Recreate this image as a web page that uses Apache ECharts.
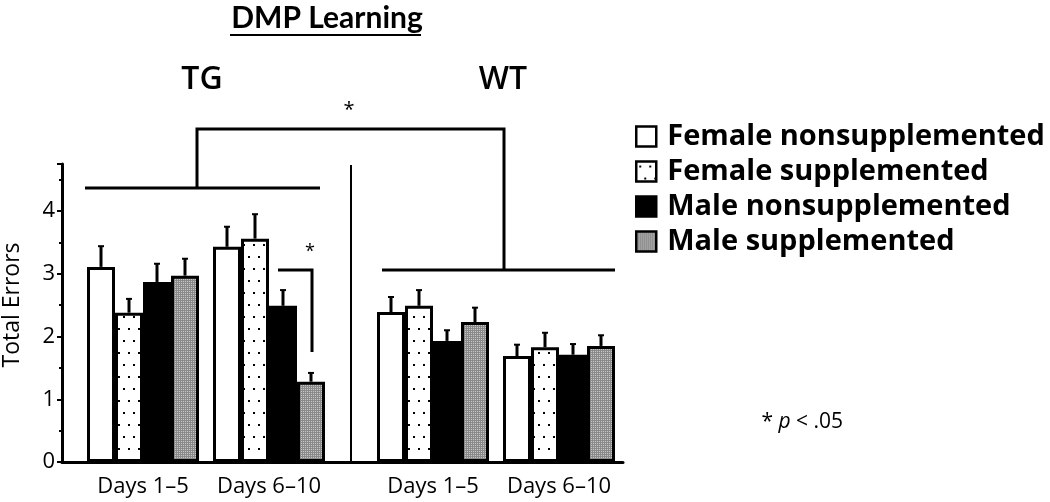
<!DOCTYPE html>
<html><head><meta charset="utf-8">
<script src="https://cdn.jsdelivr.net/npm/echarts@6/dist/echarts.min.js"></script>
<style>html,body{margin:0;padding:0;background:#fff}#c{width:1050px;height:502px}</style>
</head><body><div id="c"></div>
<script>
// ---- data ----
const categories = ['Days 1–5', 'Days 6–10'];
const seriesNames = ['Female nonsupplemented', 'Female supplemented', 'Male nonsupplemented', 'Male supplemented'];
const yTicks = [0, 1, 2, 3, 4];

const tgFemaleNonsupp = [3.11, 3.43];
const tgFemaleSupp    = [2.38, 3.56];
const tgMaleNonsupp   = [2.87, 2.49];
const tgMaleSupp      = [2.97, 1.28];
const wtFemaleNonsupp = [2.39, 1.69];
const wtFemaleSupp    = [2.49, 1.83];
const wtMaleNonsupp   = [1.93, 1.71];
const wtMaleSupp      = [2.23, 1.85];

const tgFemaleNonsuppErr = [0.33, 0.32];
const tgFemaleSuppErr    = [0.22, 0.39];
const tgMaleNonsuppErr   = [0.29, 0.25];
const tgMaleSuppErr      = [0.27, 0.14];
const wtFemaleNonsuppErr = [0.24, 0.18];
const wtFemaleSuppErr    = [0.25, 0.23];
const wtMaleNonsuppErr   = [0.17, 0.17];
const wtMaleSuppErr      = [0.23, 0.17];

// ---- patterns ----
function dotPattern() {
  const c = document.createElement('canvas'); c.width = 10; c.height = 24;
  const x = c.getContext('2d');
  x.fillStyle = '#fff'; x.fillRect(0, 0, 10, 24);
  x.fillStyle = '#000'; x.fillRect(3, 4, 2, 2); x.fillRect(8, 16, 2, 2);
  return c;
}
function greyPattern() {
  const c = document.createElement('canvas'); c.width = 4; c.height = 4;
  const x = c.getContext('2d');
  x.fillStyle = '#c8c8c8'; x.fillRect(0, 0, 4, 4);
  x.fillStyle = '#8a8a8a';
  x.fillRect(0, 0, 1, 4); x.fillRect(2, 0, 1, 4);
  x.fillRect(0, 0, 4, 1); x.fillRect(0, 2, 4, 1);
  return c;
}
const fills = ['#ffffff', {image: dotPattern(), repeat: 'repeat'}, '#000000', {image: greyPattern(), repeat: 'repeat'}];

const FONT = '"Open Sans", "DejaVu Sans", sans-serif';
const TFONT = 'Lato, "Open Sans", sans-serif';
const BAR_W = 28;
const YMAX = 4.75;

const groups = [
  {means: [tgFemaleNonsupp, tgFemaleSupp, tgMaleNonsupp, tgMaleSupp], errs: [tgFemaleNonsuppErr, tgFemaleSuppErr, tgMaleNonsuppErr, tgMaleSuppErr]},
  {means: [wtFemaleNonsupp, wtFemaleSupp, wtMaleNonsupp, wtMaleSupp], errs: [wtFemaleNonsuppErr, wtFemaleSuppErr, wtMaleNonsuppErr, wtMaleSuppErr]}
];

const series = [];
groups.forEach((g, gi) => {
  g.means.forEach((m, i) => {
    series.push({
      type: 'bar', name: seriesNames[i], xAxisIndex: gi, yAxisIndex: gi,
      barWidth: BAR_W, barGap: '0%', data: m,
      itemStyle: {color: fills[i], borderColor: '#000', borderWidth: 3},
      emphasis: {disabled: true}, z: 2
    });
  });
  g.means.forEach((m, i) => {
    series.push({
      type: 'custom', name: 'err' + gi + i, xAxisIndex: gi, yAxisIndex: gi, z: 3,
      data: m.map((v, k) => [k, v, v + g.errs[i][k]]),
      encode: {x: 0, y: [1, 2]},
      renderItem: function (params, api) {
        const cat = api.value(0);
        const p0 = api.coord([cat, api.value(1)]);
        const p1 = api.coord([cat, api.value(2)]);
        const cx = p0[0] + (i - 1.5) * BAR_W;
        return {type: 'group', children: [
          {type: 'line', shape: {x1: cx, y1: p0[1], x2: cx, y2: p1[1]}, style: {stroke: '#000', lineWidth: 3}},
          {type: 'line', shape: {x1: cx - 3, y1: p1[1], x2: cx + 3, y2: p1[1]}, style: {stroke: '#000', lineWidth: 2}}
        ]};
      }
    });
  });
});

const gridTop = 164, gridBottom = 40;
const xLabel = {color: '#000', fontSize: 22, margin: 14, fontFamily: FONT, interval: 0, hideOverlap: false};
const option = {
  animation: false,
  backgroundColor: '#fff',
  textStyle: {fontFamily: FONT},
  grid: [
    {left: 80, width: 252, top: gridTop, bottom: gridBottom, outerBoundsMode: 'none'},
    {left: 370, width: 252, top: gridTop, bottom: gridBottom, outerBoundsMode: 'none'},
    {left: 62, width: 561, top: gridTop, bottom: gridBottom, outerBoundsMode: 'none'}
  ],
  xAxis: [
    {type: 'category', gridIndex: 0, data: categories, axisLine: {show: false}, axisTick: {show: false}, axisLabel: xLabel},
    {type: 'category', gridIndex: 1, data: categories, axisLine: {show: false}, axisTick: {show: false}, axisLabel: xLabel},
    {type: 'value', gridIndex: 2, min: 0, max: 1, axisLine: {show: true, lineStyle: {color: '#000', width: 3}},
     axisTick: {show: false}, axisLabel: {show: false}, splitLine: {show: false}}
  ],
  yAxis: [
    {type: 'value', gridIndex: 0, min: 0, max: YMAX, show: false},
    {type: 'value', gridIndex: 1, min: 0, max: YMAX, show: false},
    {type: 'value', gridIndex: 2, min: 0, max: YMAX, interval: 1,
     axisLine: {show: true, lineStyle: {color: '#000', width: 3}},
     axisTick: {show: true, length: 5, lineStyle: {color: '#000', width: 2}},
     minorTick: {show: true, splitNumber: 2, length: 3, lineStyle: {color: '#000', width: 2}},
     splitLine: {show: false},
     axisLabel: {color: '#000', fontSize: 22, margin: 7, fontFamily: FONT,
       formatter: v => (yTicks.indexOf(v) >= 0 ? String(v) : '')}}
  ],
  legend: {
    data: seriesNames, orient: 'vertical', left: 635, top: 122, padding: 0,
    itemWidth: 20, itemHeight: 20, itemGap: 6, icon: 'rect', selectedMode: false,
    itemStyle: {borderColor: '#000', borderWidth: 2.5},
    textStyle: {color: '#000', fontSize: 29, fontWeight: 'bold', fontFamily: FONT, lineHeight: 26, padding: [0, 0, 0, 6]}
  },
  graphic: [
    {type: 'text', x: 327, y: 18, style: {text: 'DMP Learning', fill: '#000', font: 'bold 30px ' + TFONT, align: 'center', verticalAlign: 'middle'}},
    {type: 'line', shape: {x1: 230, y1: 35, x2: 421, y2: 35}, style: {stroke: '#000', lineWidth: 2}},
    {type: 'text', x: 202, y: 80, style: {text: 'TG', fill: '#000', font: '600 32px ' + FONT, align: 'center', verticalAlign: 'middle'}},
    {type: 'text', x: 503, y: 80, style: {text: 'WT', fill: '#000', font: '600 32px ' + FONT, align: 'center', verticalAlign: 'middle'}},
    {type: 'text', x: 12, y: 305, rotation: Math.PI / 2, style: {text: 'Total Errors', fill: '#000', font: '23px ' + FONT, align: 'center', verticalAlign: 'middle'}},
    {type: 'text', x: 349, y: 110, style: {text: '*', fill: '#000', font: '20px ' + FONT, align: 'center', verticalAlign: 'middle'}},
    {type: 'polyline', shape: {points: [[85, 188], [320, 188]]}, style: {stroke: '#000', lineWidth: 3, fill: null}},
    {type: 'polyline', shape: {points: [[197, 188], [197, 129], [504, 129], [504, 270]]}, style: {stroke: '#000', lineWidth: 3, fill: null}},
    {type: 'polyline', shape: {points: [[382, 270], [615, 270]]}, style: {stroke: '#000', lineWidth: 3, fill: null}},
    {type: 'line', shape: {x1: 351, y1: 165, x2: 351, y2: 462}, style: {stroke: '#000', lineWidth: 2}},
    {type: 'polyline', shape: {points: [[278, 270], [312, 270], [312, 352]]}, style: {stroke: '#000', lineWidth: 3, fill: null}},
    {type: 'text', x: 310, y: 252, style: {text: '*', fill: '#000', font: '18px ' + FONT, align: 'center', verticalAlign: 'middle'}},
    {type: 'text', x: 843, y: 422, style: {text: '* {it|p} < .05', fill: '#000', font: '21px ' + FONT, align: 'right', verticalAlign: 'middle',
      rich: {it: {fontStyle: 'italic', fontSize: 21, fontFamily: FONT}}}}
  ],
  series: series
};
const chart = echarts.init(document.getElementById('c'), null, {renderer: 'canvas'});
chart.setOption(option);
</script>
</body></html>
